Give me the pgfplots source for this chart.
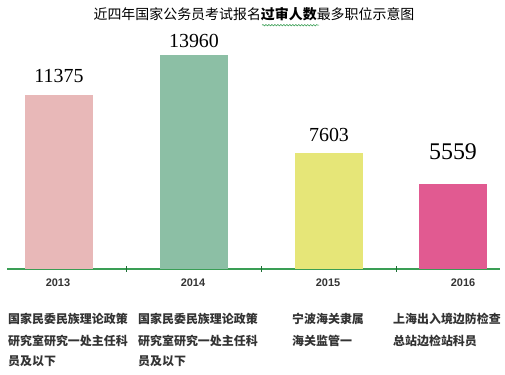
\documentclass[border=0pt]{standalone}
\usepackage{fontspec}
\setmainfont{Liberation Serif}
\newfontfamily\cjk{Noto Sans CJK SC}
\newfontfamily\sansf{Liberation Sans}
\usepackage{pgfplots}
\pgfplotsset{compat=1.18}
\usetikzlibrary{decorations.pathmorphing}
\definecolor{c13}{HTML}{E8B8B8}
\definecolor{c14}{HTML}{8CBFA5}
\definecolor{c15}{HTML}{E6E678}
\definecolor{c16}{HTML}{E15A91}
\definecolor{axgreen}{HTML}{3A9E55}
\definecolor{tickgreen}{HTML}{1E6E35}
\definecolor{lab}{HTML}{333333}
\pgfplotsset{
  barst/.style={ybar, bar width=68bp, bar shift=0pt, draw=none, nodes near coords,
    every node near coord/.append style={font=\fontsize{20}{24}\selectfont, text=black, inner sep=0pt, anchor=south, yshift=#1}},
}
\begin{document}
\begin{tikzpicture}
\path[use as bounding box] (-7bp,0) rectangle (498bp,375bp);
\begin{axis}[
  scale only axis, width=493bp, height=375bp,
  xmin=7, xmax=500, ymin=-6921.8, ymax=17565.7,
  axis x line*=middle, axis y line=none,
  x axis line style={draw=axgreen, line width=1.6pt},
  /pgf/number format/assume math mode=true,
  /pgf/number format/1000 sep={},
  xtick={58,193,328,463}, xticklabels={2013,2014,2015,2016},
  major tick length=0pt,
  xticklabel style={font=\sansf\bfseries\fontsize{11}{13}\selectfont, text=lab, yshift=-6bp},
  extra x ticks={126,261,396}, extra x tick labels={},
  extra x tick style={major tick length=6bp, tick align=center, tick style={draw=tickgreen, line width=1pt}},
  ytick=\empty,
  clip=false,
]
\addplot[barst=12bp, fill=c13] coordinates {(59,11375)};
\addplot[barst=7bp, fill=c14] coordinates {(194,13960)};
\addplot[barst=11bp, fill=c15] coordinates {(329,7603)};
\addplot[barst=24bp, fill=c16, every node near coord/.append style={font=\fontsize{24}{28}\selectfont}] coordinates {(453,5559)};

\node[font=\cjk\fontsize{14}{16}\selectfont] at (axis cs:254,16652) {近四年国家公务员考试报名{\bfseries 过审人数}最多职位示意图};
\draw[axgreen, line width=0.6pt, decorate, decoration={snake, amplitude=0.7pt, segment length=3pt}] (axis cs:262,15920) -- (axis cs:319,15920);

\tikzset{cl/.style={anchor=base west, inner sep=0pt, text=lab, font=\cjk\bfseries\fontsize{12}{14}\selectfont}}
\node[cl] at (axis cs:8,-3591) {国家民委民族理论政策};
\node[cl] at (axis cs:8,-5028) {研究室研究一处主任科};
\node[cl] at (axis cs:8,-6334) {员及以下};
\node[cl] at (axis cs:138,-3591) {国家民委民族理论政策};
\node[cl] at (axis cs:138,-5028) {研究室研究一处主任科};
\node[cl] at (axis cs:138,-6334) {员及以下};
\node[cl] at (axis cs:292,-3591) {宁波海关隶属};
\node[cl] at (axis cs:292,-5028) {海关监管一};
\node[cl] at (axis cs:393,-3591) {上海出入境边防检查};
\node[cl] at (axis cs:393,-5028) {总站边检站科员};
\end{axis}
\end{tikzpicture}
\end{document}
